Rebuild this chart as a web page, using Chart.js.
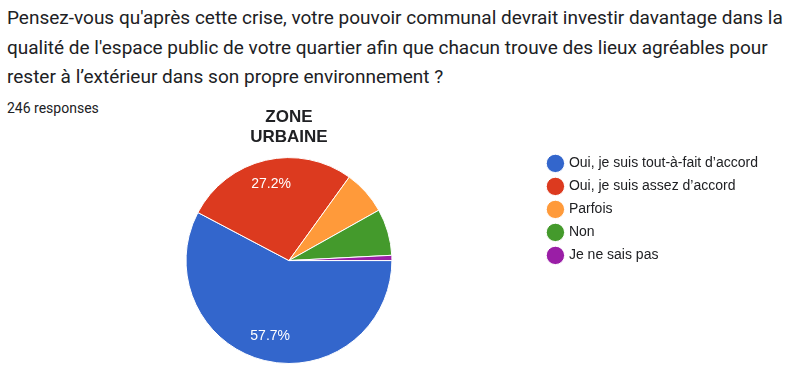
<!DOCTYPE html>
<html>
<head>
<meta charset="utf-8">
<script src="https://cdn.jsdelivr.net/npm/chart.js@4"></script>
<style>
  body { margin: 0; background: #fff; width: 800px; height: 377px; overflow: hidden; position: relative; font-family: Roboto, "Liberation Sans", sans-serif; }
  #question { position: absolute; left: 7px; top: 3px; width: 792px; font-size: 19px; line-height: 29.5px; color: #202124; }
  #count { position: absolute; left: 7px; top: 100px; font-size: 14px; color: #202124; }
  #wrap { position: absolute; left: 0; top: 106px; width: 800px; height: 271px; }
</style>
</head>
<body>
<div id="question">Pensez-vous qu'après cette crise, votre pouvoir communal devrait investir davantage dans la qualité de l'espace public de votre quartier afin que chacun trouve des lieux agréables pour rester à l’extérieur dans son propre environnement ?</div>
<div id="count">246 responses</div>
<div id="wrap"><canvas id="pie-chart" width="800" height="271"></canvas></div>
<script>
"use strict";

// Answers and counts (246 responses)
const labels = ["Oui, je suis tout-à-fait d’accord", "Oui, je suis assez d’accord", "Parfois", "Non", "Je ne sais pas"];
const counts = [142, 67, 17, 18, 2];
const colours = ["#3366cc", "#dc3a1f", "#ff9a3a", "#449a2c", "#9a1ea6"];
const chartTitle = ["ZONE", "URBAINE"];

// Percent labels inside the big slices
const percentLabels = {
    id: "percentLabels",
    afterDatasetsDraw(chart) {
        const ctx = chart.ctx;
        const total = counts.reduce((a, b) => a + b, 0);
        chart.getDatasetMeta(0).data.forEach((arc, i) => {
            let pct = counts[i] / total * 100;
            if (pct < 10) return;
            let p = arc.getProps(["x", "y", "startAngle", "endAngle", "outerRadius"], true);
            let mid = (p.startAngle + p.endAngle) / 2;
            let r = p.outerRadius * 0.76;
            ctx.save();
            ctx.fillStyle = "#ffffff";
            ctx.font = "14px Arial, 'Liberation Sans'";
            ctx.textAlign = "center";
            ctx.textBaseline = "middle";
            ctx.fillText(pct.toFixed(1) + "%", p.x + Math.cos(mid) * r, p.y + Math.sin(mid) * r);
            ctx.restore();
        });
    }
};

let pieChart = new Chart(document.getElementById("pie-chart").getContext("2d"), {
    type: "pie",
    data: {
        labels: labels,
        datasets: [{
            data: counts,
            backgroundColor: colours,
            borderColor: "#ffffff",
            borderWidth: 1
        }]
    },
    options: {
        responsive: false,
        animation: false,
        rotation: 90,
        layout: { padding: { left: 38, top: 0, bottom: 13, right: 32 } },
        plugins: {
            title: {
                display: true,
                text: chartTitle,
                fullSize: false,
                color: "#202124",
                font: { family: "Arial, 'Liberation Sans'", size: 17, weight: "bold", lineHeight: 1.15 },
                padding: { top: 2, bottom: 10 }
            },
            legend: {
                position: "right",
                align: "start",
                title: { display: true, text: "", padding: { top: 27, bottom: 0 } },
                labels: {
                    usePointStyle: true,
                    pointStyle: "circle",
                    boxWidth: 13,
                    boxHeight: 13,
                    padding: 9,
                    color: "#202124",
                    font: { family: "Arial, 'Liberation Sans'", size: 14 }
                }
            },
            tooltip: { enabled: false }
        }
    },
    plugins: [percentLabels]
});
</script>
</body>
</html>
